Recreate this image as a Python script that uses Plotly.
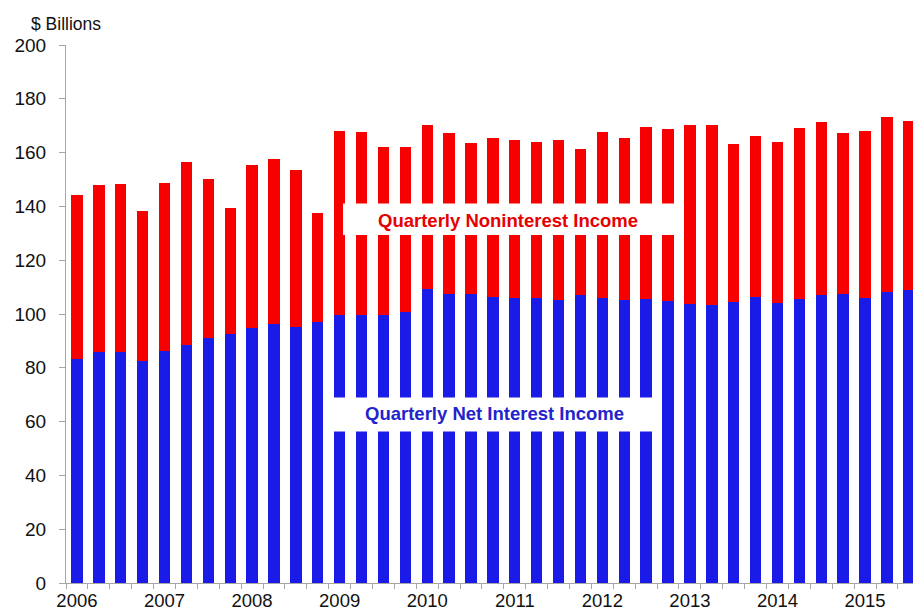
import plotly.graph_objects as go

# Quarterly revenue, $ billions (2006 Q1 - 2015 Q3)
quarters = [f"{y} Q{q}" for y in range(2006, 2016) for q in range(1, 5)][:39]

net_interest_income = [
    83.1, 85.9, 85.7, 82.5, 86.4, 88.4, 91.1, 92.6, 94.7, 96.4,
    95.3, 97.0, 99.7, 99.5, 99.7, 100.6, 109.4, 107.5, 107.5, 106.4,
    106.1, 105.8, 105.2, 107.1, 106.1, 105.2, 105.6, 104.8, 103.6, 103.3,
    104.6, 106.4, 104.2, 105.6, 107.1, 107.3, 105.8, 108.3, 108.8,
]
noninterest_income = [
    61.1, 62.1, 62.6, 55.7, 62.2, 68.0, 59.0, 46.7, 60.6, 61.2,
    58.1, 40.7, 68.4, 68.0, 62.5, 61.4, 60.9, 59.8, 56.1, 59.0,
    58.5, 58.1, 59.4, 54.4, 61.4, 60.2, 63.8, 64.0, 66.7, 67.0,
    58.7, 59.9, 59.7, 63.5, 64.4, 60.0, 62.3, 65.0, 62.9,
]
year_labels = [str(y) for y in range(2006, 2016)]

x_pos = list(range(len(quarters)))
year_ticks = [i for i, q in enumerate(quarters) if q.endswith("Q1")]

FONT = "Liberation Sans"
RED = "#F70000"
BLUE = "#1B1BE8"
AXIS_GRAY = "#A6A6A6"

fig = go.Figure()
fig.add_trace(go.Bar(
    x=x_pos, y=net_interest_income, marker=dict(color=BLUE, line=dict(width=0)),
    name="Quarterly Net Interest Income", customdata=quarters,
    hovertemplate="%{customdata}: %{y}<extra></extra>",
))
fig.add_trace(go.Bar(
    x=x_pos, y=noninterest_income, marker=dict(color=RED, line=dict(width=0)),
    name="Quarterly Noninterest Income", customdata=quarters,
    hovertemplate="%{customdata}: %{y}<extra></extra>",
))

L, T, PW, PH = 66, 45, 847, 538  # plot area in pixels


def px_x(p):
    return (p - L) / PW


def px_y(p):
    return (T + PH - p) / PH


shapes = [
    # white label panels laid over the bars
    dict(type="rect", xref="paper", yref="paper", layer="above",
         x0=px_x(343), x1=px_x(677), y0=px_y(235), y1=px_y(203.5),
         fillcolor="white", line=dict(width=0)),
    dict(type="rect", xref="paper", yref="paper", layer="above",
         x0=px_x(333), x1=px_x(656), y0=px_y(431.5), y1=px_y(397.5),
         fillcolor="white", line=dict(width=0)),
]

annotations = [
    dict(text="<b>Quarterly Noninterest Income</b>", xref="paper", yref="paper",
         x=px_x(508), y=px_y(220), xanchor="center", yanchor="middle",
         showarrow=False, font=dict(family=FONT, size=18.5, color="#E60000")),
    dict(text="<b>Quarterly Net Interest Income</b>", xref="paper", yref="paper",
         x=px_x(494), y=px_y(413), xanchor="center", yanchor="middle",
         showarrow=False, font=dict(family=FONT, size=18.5, color="#2323CC")),
    dict(text="$ Billions", xref="paper", yref="paper",
         x=px_x(29), y=px_y(24), xanchor="left", yanchor="middle",
         showarrow=False, font=dict(family=FONT, size=17.5, color="#111111")),
]

fig.update_layout(
    width=913, height=612,
    margin=dict(l=L, r=913 - L - PW, t=T, b=612 - T - PH),
    barmode="stack", bargap=0.48,
    plot_bgcolor="white", paper_bgcolor="white",
    showlegend=False,
    shapes=shapes, annotations=annotations,
    font=dict(family=FONT, size=19, color="#111111"),
)
fig.update_xaxes(
    range=[-0.5, 38.19], automargin=False,
    tickmode="array", tickvals=year_ticks, ticktext=year_labels,
    ticks="outside", ticklen=1, tickcolor="rgba(0,0,0,0)",
    minor=dict(tickmode="linear", tick0=-0.5, dtick=1, ticks="outside",
               ticklen=5, tickcolor=AXIS_GRAY),
    showline=True, linecolor=AXIS_GRAY, linewidth=1,
    showgrid=False, zeroline=False,
    tickfont=dict(family=FONT, size=18.5, color="#111111"),
)
fig.update_yaxes(
    range=[0, 200], tick0=0, dtick=20, automargin=False,
    ticks="outside", ticklen=6, tickcolor=AXIS_GRAY,
    ticklabelstandoff=9,
    showline=True, linecolor=AXIS_GRAY, linewidth=1,
    showgrid=False, zeroline=False,
    tickfont=dict(family=FONT, size=19, color="#111111"),
)

fig.write_html("out.html")
